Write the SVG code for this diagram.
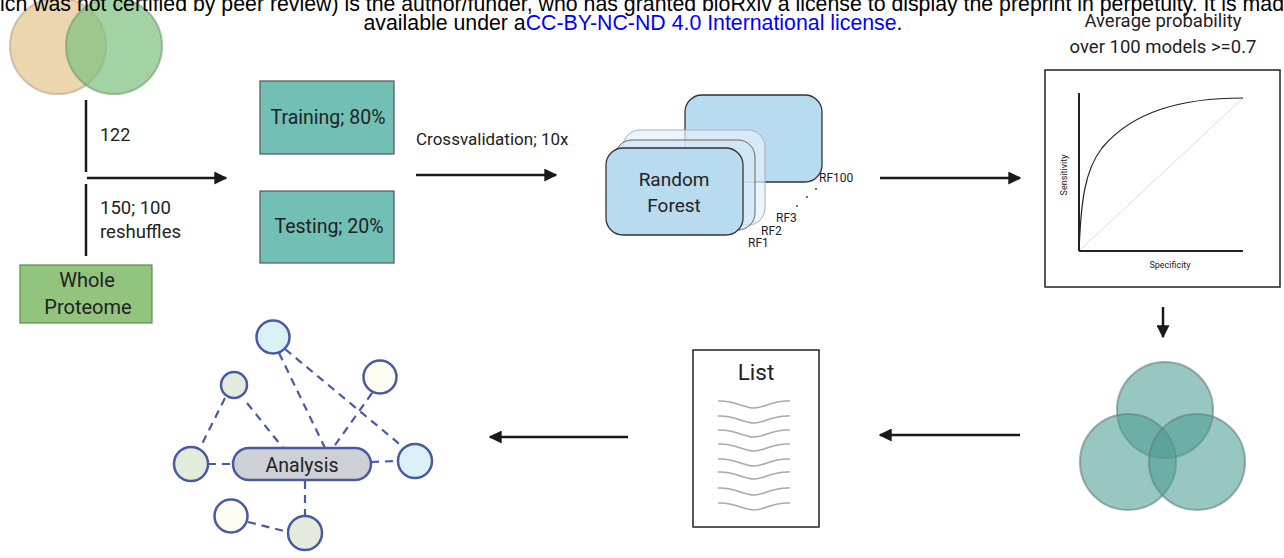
<svg xmlns="http://www.w3.org/2000/svg" width="1284" height="558" viewBox="0 0 1284 558">
<defs>
<marker id="ah" viewBox="0 0 10 10" refX="9" refY="5" markerWidth="5.2" markerHeight="5.2" orient="auto-start-reverse" markerUnits="strokeWidth">
<path d="M0,0 L10,5 L0,10 z" fill="#1a1a1a"/>
</marker>
<style>
.hdr{font-family:"Liberation Sans",Arial,sans-serif;font-size:21.3px;fill:#000}
.lbl{font-family:Roboto,"Liberation Sans",sans-serif;fill:#222}
.arr{stroke:#1a1a1a;stroke-width:2.5;fill:none;marker-end:url(#ah)}
.bar{stroke:#1a1a1a;stroke-width:2.5}
.edge{stroke:#4a5aa0;stroke-width:2.2;stroke-dasharray:8 6;fill:none}
.nd{stroke:#4a5aa0;stroke-width:2.5}
.wave{stroke:#aaa;stroke-width:1.6;fill:none}
</style>
</defs>
<rect width="1284" height="558" fill="#fff"/>
<g id="venn2">
<circle cx="58" cy="46" r="48" fill="#e6cc98" fill-opacity="0.8" stroke="#b9a08a" stroke-opacity="0.6" stroke-width="2"/>
<circle cx="114" cy="46" r="48" fill="#7cc07e" fill-opacity="0.7" stroke="#6a9a6a" stroke-opacity="0.6" stroke-width="2"/>
</g>
<g id="header">
<text class="hdr" x="0" y="11">ich was not certified by peer review) is the author/funder, who has granted bioRxiv a license to display the preprint in perpetuity. It is made</text>
<text class="hdr" x="633" y="30" text-anchor="middle">available under a<tspan fill="#0000ff">CC-BY-NC-ND 4.0 International license</tspan>.</text>
</g>
<g id="connectors">
<line class="bar" x1="86" y1="100" x2="86" y2="172"/>
<line class="bar" x1="86" y1="184" x2="86" y2="256"/>
<line class="arr" x1="87" y1="178" x2="226" y2="178"/>
<line class="arr" x1="416" y1="175" x2="556" y2="175"/>
<line class="arr" x1="880" y1="178" x2="1020" y2="178"/>
<line class="arr" x1="1163" y1="307" x2="1163" y2="337"/>
<line class="arr" x1="1020" y1="435" x2="880" y2="435"/>
<line class="arr" x1="628" y1="437" x2="490" y2="437"/>
</g>
<g id="labels">
<text class="lbl" x="100" y="141" font-size="18">122</text>
<text class="lbl" x="100" y="214" font-size="18.5">150; 100</text>
<text class="lbl" x="100" y="238" font-size="18.5">reshuffles</text>
<text class="lbl" x="416" y="145" font-size="17">Crossvalidation; 10x</text>
<text class="lbl" x="1163" y="27" font-size="18.5" text-anchor="middle" fill="#333">Average probability</text>
<text class="lbl" x="1163" y="53" font-size="18.5" text-anchor="middle" fill="#333">over 100 models &gt;=0.7</text>
</g>
<g id="whole-proteome">
<rect x="20" y="265" width="132" height="58" fill="#93c47d" stroke="#5e8a52" stroke-width="1.2"/>
<text class="lbl" x="87" y="287" font-size="20" text-anchor="middle">Whole</text>
<text class="lbl" x="88" y="314" font-size="20" text-anchor="middle">Proteome</text>
</g>
<g id="training">
<rect x="260" y="81" width="134" height="73" fill="#72bfb5" stroke="#555" stroke-width="1.2"/>
<text class="lbl" x="328" y="124" font-size="19.5" text-anchor="middle">Training; 80%</text>
</g>
<g id="testing">
<rect x="260" y="191" width="134" height="72" fill="#72bfb5" stroke="#555" stroke-width="1.2"/>
<text class="lbl" x="329" y="233" font-size="19.5" text-anchor="middle">Testing; 20%</text>
</g>
<g id="random-forest">
<rect x="685" y="95" width="137" height="87" rx="17" fill="#b9dbf0" stroke="#333" stroke-width="1.3"/>
<rect x="623" y="130" width="142" height="95" rx="17" fill="#e3f1fa" fill-opacity="0.7" stroke="#aab" stroke-width="1"/>
<rect x="615" y="140" width="140" height="90" rx="17" fill="#cfe6f5" fill-opacity="0.7" stroke="#666" stroke-width="1"/>
<rect x="606" y="148" width="137" height="87" rx="17" fill="#b9dbf0" stroke="#333" stroke-width="1.3"/>
<text class="lbl" x="674" y="186" font-size="19" text-anchor="middle" fill="#333">Random</text>
<text class="lbl" x="674" y="212" font-size="19" text-anchor="middle" fill="#333">Forest</text>
<text class="lbl" x="819" y="182" font-size="12" fill="#333">RF100</text>
<text class="lbl" x="776" y="222" font-size="12" fill="#333">RF3</text>
<text class="lbl" x="761" y="235" font-size="12" fill="#333">RF2</text>
<text class="lbl" x="748" y="247" font-size="12" fill="#333">RF1</text>
<circle cx="816" cy="189" r="0.9" fill="#333"/>
<circle cx="807" cy="197" r="0.9" fill="#333"/>
<circle cx="797" cy="206" r="0.9" fill="#333"/>
</g>
<g id="roc">
<rect x="1045" y="70" width="235" height="217" fill="#fff" stroke="#222" stroke-width="1.5"/>
<line x1="1079" y1="251" x2="1243" y2="98" stroke="#ddd" stroke-width="1"/>
<path d="M1079,251 C1081,200 1085,170 1102,148 C1132,112 1180,98 1243,98" fill="none" stroke="#222" stroke-width="1.2"/>
<line x1="1079" y1="93" x2="1079" y2="251" stroke="#222" stroke-width="2"/>
<line x1="1079" y1="251" x2="1243" y2="251" stroke="#222" stroke-width="2"/>
<text class="lbl" x="0" y="0" font-size="9" fill="#333" text-anchor="middle" transform="translate(1067,175) rotate(-90)">Sensitivity</text>
<text class="lbl" x="1170" y="268" font-size="9" fill="#333" text-anchor="middle">Specificity</text>
</g>
<g id="venn3">
<circle cx="1165" cy="410" r="48" fill="#4e9c92" fill-opacity="0.58" stroke="#5f7f7a" stroke-opacity="0.6" stroke-width="2"/>
<circle cx="1128" cy="462" r="48" fill="#4e9c92" fill-opacity="0.58" stroke="#5f7f7a" stroke-opacity="0.6" stroke-width="2"/>
<circle cx="1197" cy="462" r="48" fill="#4e9c92" fill-opacity="0.58" stroke="#5f7f7a" stroke-opacity="0.6" stroke-width="2"/>
</g>
<g id="list">
<rect x="693" y="350" width="126" height="177" fill="#fff" stroke="#222" stroke-width="1.5"/>
<text class="lbl" x="756" y="380" font-size="22.5" text-anchor="middle">List</text>
<path class="wave" d="M718,401 C735,400 743,408 754,408 C765,408 772,400 790,401"/>
<path class="wave" d="M718,416 C735,415 743,423 754,423 C765,423 772,415 790,416"/>
<path class="wave" d="M718,430 C735,429 743,437 754,437 C765,437 772,429 790,430"/>
<path class="wave" d="M718,444 C735,443 743,451 754,451 C765,451 772,443 790,444"/>
<path class="wave" d="M718,459 C735,458 743,466 754,466 C765,466 772,458 790,459"/>
<path class="wave" d="M718,472 C735,471 743,479 754,479 C765,479 772,471 790,472"/>
<path class="wave" d="M718,488 C735,487 743,495 754,495 C765,495 772,487 790,488"/>
<path class="wave" d="M718,503 C735,502 743,510 754,510 C765,510 772,502 790,503"/>
</g>
<g id="network-edges">
<line class="edge" x1="225" y1="398" x2="200" y2="448"/>
<line class="edge" x1="247" y1="403" x2="283" y2="448"/>
<line class="edge" x1="279" y1="353" x2="325" y2="448"/>
<line class="edge" x1="285" y1="349" x2="403" y2="447"/>
<line class="edge" x1="372" y1="393" x2="333" y2="448"/>
<line class="edge" x1="208" y1="464" x2="233" y2="464"/>
<line class="edge" x1="371" y1="462" x2="398" y2="461"/>
<line class="edge" x1="305" y1="481" x2="305" y2="516"/>
<line class="edge" x1="248" y1="522" x2="288" y2="532"/>
</g>
<g id="node-top"><circle class="nd" cx="273" cy="337" r="16.5" fill="#dcf0f7"/></g>
<g id="node-left-small"><circle class="nd" cx="234" cy="385" r="13" fill="#e3ecdc"/></g>
<g id="node-right-top"><circle class="nd" cx="380" cy="377" r="16.5" fill="#fdfdf1"/></g>
<g id="node-left"><circle class="nd" cx="191" cy="464" r="17" fill="#e3ecdc"/></g>
<g id="node-right"><circle class="nd" cx="415" cy="461" r="17" fill="#dcf0f7"/></g>
<g id="node-bottom-left"><circle class="nd" cx="231" cy="516" r="16.5" fill="#fdfdf1"/></g>
<g id="node-bottom"><circle class="nd" cx="305" cy="533" r="17" fill="#e3ecdc"/></g>
<g id="analysis">
<rect x="233" y="448" width="138" height="32" rx="16" fill="#cdd0d6" stroke="#4a5aa0" stroke-width="2.5"/>
<text class="lbl" x="302" y="472" font-size="19.5" text-anchor="middle">Analysis</text>
</g>
</svg>
